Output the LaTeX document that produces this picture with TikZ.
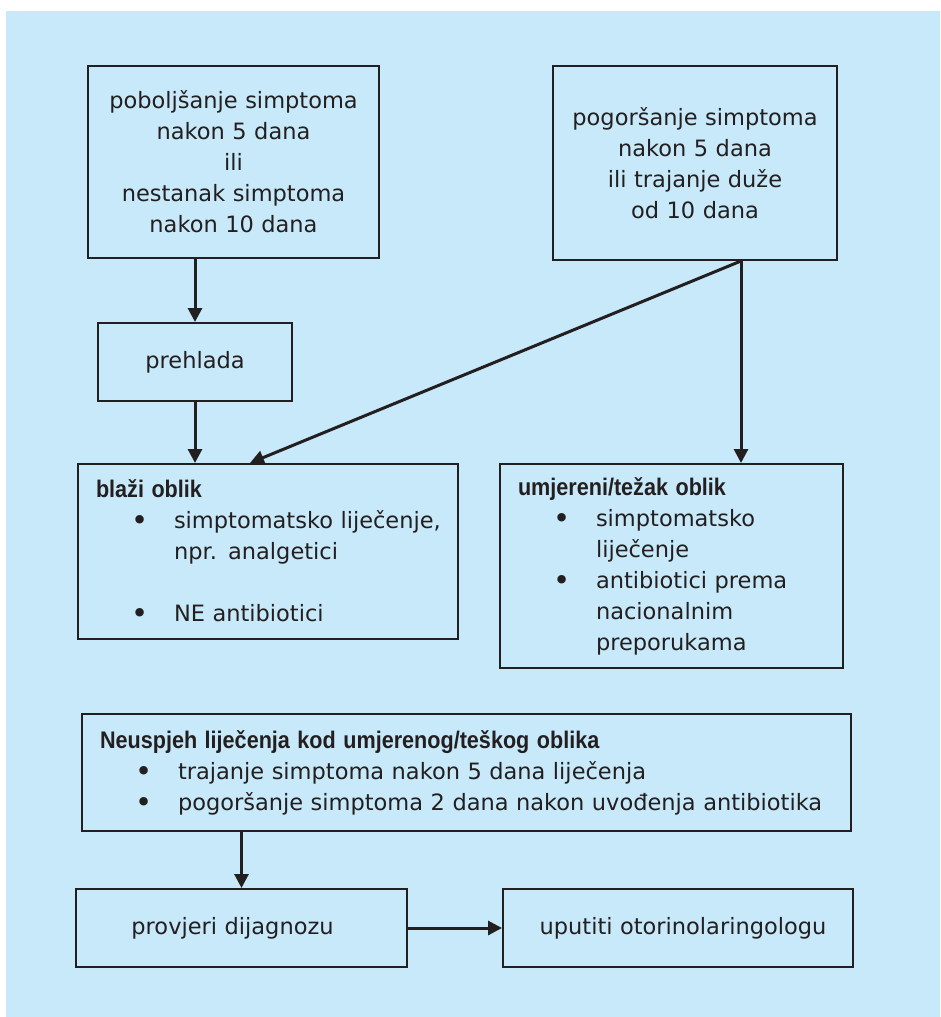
\documentclass[tikz,border=0pt]{standalone}
\usepackage{fontspec}
\setmainfont{DejaVu Sans}
\newfontfamily\headfont{Liberation Sans}[FakeStretch=0.9]
\usetikzlibrary{arrows.meta}

\definecolor{sky}{RGB}{199,233,249}
\definecolor{ink}{RGB}{35,31,32}

\newcommand{\boxhead}[1]{{\headfont\bfseries\fontsize{24}{31}\selectfont #1}}
\newcommand{\bigdot}{\raisebox{-2.2pt}{\fontsize{29}{31}\selectfont\textbullet}}
\newcommand{\bitem}[1]{\mbox{\hspace*{35.5pt}\makebox[42.5pt][l]{\bigdot}#1}}
\newcommand{\bmore}[1]{\mbox{\hspace*{78pt}#1}}

\begin{document}
\begin{tikzpicture}[x=1pt,y=-1pt]
\tikzstyle{box}=[rectangle,draw=ink,line width=2pt,inner sep=0pt,text=ink,font=\fontsize{22.5}{31}\selectfont]
\tikzstyle{mid}=[box,align=center]
\tikzstyle{list}=[box,align=left]
\tikzstyle{flow}=[draw=ink,line width=3pt,-{Triangle[length=14pt,width=14pt]}]
\useasboundingbox (0,0) rectangle (940,1017);
\fill[sky] (6,11) rectangle (940,1017);
\node[mid,minimum width=291pt,minimum height=192pt,text width=271pt] (better) at (233.5,162)
  {poboljšanje simptoma\\nakon 5 dana\\ili\\nestanak simptoma\\nakon 10 dana};
\node[mid,minimum width=284pt,minimum height=194pt,text width=264pt] (worse) at (695,163)
  {pogoršanje simptoma\\nakon 5 dana\\ili trajanje duže\\od 10 dana};
\node[mid,minimum width=194pt,minimum height=78pt,text width=174pt] (cold) at (195,362) {prehlada};
\node[list,minimum width=380pt,minimum height=175pt,text width=344pt] (mild) at (268,551.5)
  {\boxhead{blaži oblik}\\
   \bitem{simptomatsko liječenje,}\\
   \bmore{npr. analgetici}\\[31pt]
   \bitem{NE antibiotici}};
\node[list,minimum width=343pt,minimum height=204pt,text width=307pt] (severe) at (671.5,566)
  {\boxhead{umjereni/težak oblik}\\
   \bitem{simptomatsko}\\
   \bmore{liječenje}\\
   \bitem{antibiotici prema}\\
   \bmore{nacionalnim}\\
   \bmore{preporukama}};
\node[list,minimum width=769pt,minimum height=117pt,text width=733pt] (failure) at (466.5,772.5)
  {\boxhead{Neuspjeh liječenja kod umjerenog/teškog oblika}\\
   \bitem{trajanje simptoma nakon 5 dana liječenja}\\
   \bitem{pogoršanje simptoma 2 dana nakon uvođenja antibiotika}};
\node[mid,minimum width=331pt,minimum height=78pt,text width=311pt] (check) at (241.5,928) {\hspace*{-18pt}provjeri dijagnozu};
\node[mid,minimum width=350pt,minimum height=78pt,text width=330pt] (refer) at (678,928) {\hspace*{10pt}uputiti otorinolaringologu};
% arrows
\coordinate (split) at ([xshift=-97pt]worse.south east);
\draw[flow] (better.south -| cold.north) -- (cold.north);
\draw[flow] (cold.south) -- (cold.south |- mild.north);
\draw[flow] (split) -- ([xshift=-18pt]mild.north);
\draw[flow] (split) -- (split |- severe.north);
\draw[flow] (failure.south -| check.north) -- (check.north);
\draw[flow] (check.east) -- (refer.west);
\end{tikzpicture}
\end{document}
